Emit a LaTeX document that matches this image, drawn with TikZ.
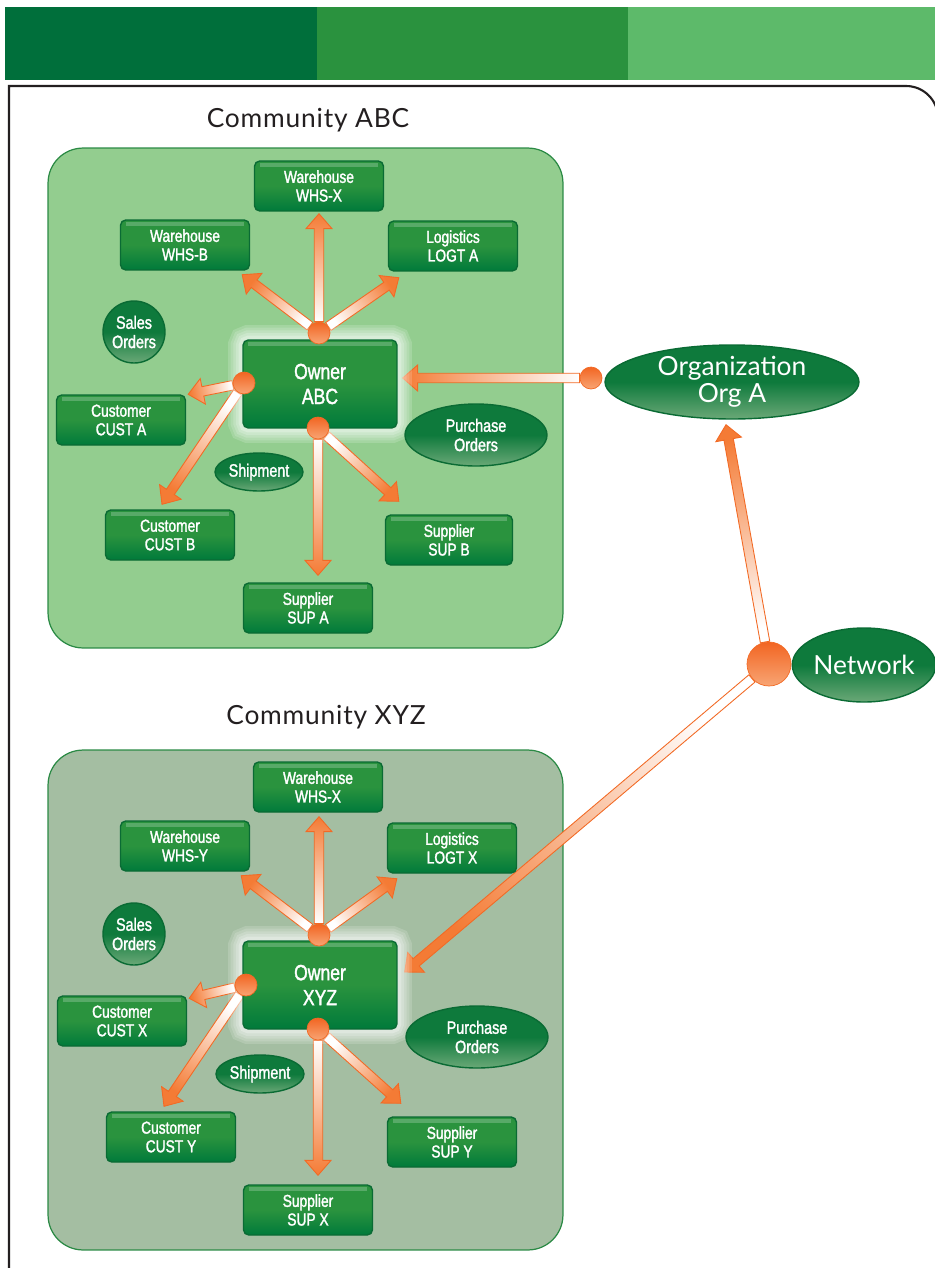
\documentclass[tikz,border=0pt]{standalone}
\usepackage{fontspec}
\setmainfont{Lato}
\newfontfamily\condfont[FakeStretch=0.8, FakeBold=1.6]{Liberation Sans}
\newfontfamily\titlefont[LetterSpace=3.0]{Lato}
\usetikzlibrary{calc}
\usetikzlibrary{shapes.geometric}

\definecolor{barone}{HTML}{006F3B}
\definecolor{bartwo}{HTML}{2A923E}
\definecolor{barthree}{HTML}{5DBA6A}
\definecolor{frameink}{HTML}{231F20}
\definecolor{commabc}{HTML}{93CD8F}
\definecolor{commxyz}{HTML}{A4BEA2}
\definecolor{commedge}{HTML}{2B8A45}
\definecolor{boxtop}{HTML}{2A933E}
\definecolor{boxbot}{HTML}{007A3B}
\definecolor{boxedge}{HTML}{0A6B34}
\definecolor{elltop}{HTML}{0E7A3C}
\definecolor{ellbot}{HTML}{6AA877}
\definecolor{balltop}{HTML}{F26522}
\definecolor{ballbot}{HTML}{F8A574}
\definecolor{arrorange}{HTML}{F47B35}
\definecolor{arredge}{HTML}{F26A25}

\pgfdeclarelayer{background}
\pgfdeclarelayer{arrowlayer}
\pgfsetlayers{background,arrowlayer,main}

% fat shaded arrow from a ball node to a target point
\newcommand{\fatarrow}[2]{%
  \path (#1) -- #2 coordinate[pos=0] (fatail) coordinate[pos=1] (fatip);
  \path ($(fatip)!8.5pt!(fatail)$) coordinate (fabase);
  \pgfmathanglebetweenpoints{\pgfpointanchor{fatail}{center}}{\pgfpointanchor{fatip}{center}}%
  \pgfmathsetmacro{\faangle}{\pgfmathresult-90}%
  \path[fatarrow, shading angle=\faangle]
    ($(fatail)!2.7pt!90:(fatip)$) -- ($(fabase)!2.7pt!90:(fatip)$) -- ($(fabase)!7.4pt!90:(fatip)$)
    -- (fatip) -- ($(fabase)!7.4pt!-90:(fatip)$) -- ($(fabase)!2.7pt!-90:(fatip)$)
    -- ($(fatail)!2.7pt!-90:(fatip)$) -- cycle;
}

\tikzset{
  unitbox/.style={rectangle, rounded corners=3pt, draw=boxedge, line width=0.8pt,
    top color=boxtop, bottom color=boxbot, middle color=boxtop, text=white, align=center,
    inner sep=0pt, minimum width=2.58cm, minimum height=1cm,
    font=\condfont\fontsize{9.8}{10.6}\selectfont,
    path picture={\fill[white, opacity=0.22, sharp corners] ([xshift=3pt, yshift=-1pt]path picture bounding box.north west)
      rectangle ([xshift=-3pt, yshift=-3.6pt]path picture bounding box.north east);}},
  ownerbox/.style={unitbox, minimum width=3.08cm, minimum height=1.76cm,
    font=\condfont\fontsize{12.5}{14.2}\selectfont,
    preaction={draw=white, line width=17pt, opacity=0.16},
    preaction={draw=white, line width=14pt, opacity=0.16},
    preaction={draw=white, line width=11pt, opacity=0.18},
    preaction={draw=white, line width=8pt, opacity=0.2},
    preaction={draw=white, line width=5pt, opacity=0.25}},
  docnode/.style={ellipse, draw=boxedge, line width=0.8pt, inner sep=0pt,
    top color=elltop, bottom color=ellbot, middle color=elltop, text=white, align=center,
    font=\condfont\fontsize{10.2}{11}\selectfont},
  salesnode/.style={docnode, circle, minimum size=1.24cm},
  ballnode/.style={circle, inner sep=0pt, minimum size=0.44cm, draw=arredge, line width=0.4pt,
    top color=balltop, bottom color=ballbot},
  bignode/.style={docnode, font=\fontsize{15}{15.5}\selectfont},
  commbox/.style={rectangle, rounded corners=0.7cm, draw=commedge, line width=0.7pt,
    minimum width=10.3cm, minimum height=10cm},
  commtitle/.style={font=\titlefont\fontsize{15}{17}\selectfont, text=frameink},
  fatarrow/.style={shade, top color=arrorange, bottom color=white, draw=arredge,
    line width=0.5pt, line join=miter},
}

\begin{document}
\begin{tikzpicture}[x=0.02cm, y=-0.02cm]
\useasboundingbox (0,0) rectangle (935,1268);

\begin{pgfonlayer}{background}
% header bar and frame
\fill[barone] (5,7) rectangle (317,80);
\fill[bartwo] (317,7) rectangle (628,80);
\fill[barthree] (628,7) rectangle (936,80);
\draw[frameink, line width=1.2pt] (9,1275) -- (9,86) -- (906,86)
  arc[start angle=90, end angle=0, radius=0.64cm] -- (938,1275);

\node[commtitle] (titleabc) at (308,120) {Community ABC};
\node[commbox, fill=commabc] (commabc) at (305.5,398) {};
\node[commtitle] (titlexyz) at (326,717) {Community XYZ};
\node[commbox, fill=commxyz] (commxyz) at (305.5,1000) {};
\end{pgfonlayer}

% community ABC
\node[unitbox] (whsxa) at (319,186) {Warehouse\\WHS-X};
\node[unitbox] (whsba) at (185,245) {Warehouse\\WHS-B};
\node[unitbox] (logta) at (453,246) {Logistics\\LOGT A};
\node[salesnode] (salesa) at (134,332) {Sales\\Orders};
\node[ownerbox] (ownerabc) at (320,384) {Owner\\ABC};
\node[unitbox] (custa) at (121,420) {Customer\\CUST A};
\node[unitbox] (custb) at (170,535) {Customer\\CUST B};
\node[docnode, minimum width=1.76cm, minimum height=0.76cm] (shipa) at (259,472) {Shipment};
\node[docnode, minimum width=2.84cm, minimum height=1.24cm] (purcha) at (476,435) {Purchase\\Orders};
\node[unitbox, minimum width=2.54cm] (supb) at (449,540) {Supplier\\SUP B};
\node[unitbox] (supa) at (308,608) {Supplier\\SUP A};

\node[ballnode] (topa) at (319,333) {};
\node[ballnode] (lefta) at (244,383) {};
\node[ballnode] (bota) at (318,428) {};

% community XYZ
\node[unitbox] (whsxb) at (318,787) {Warehouse\\WHS-X};
\node[unitbox] (whsy) at (185,846) {Warehouse\\WHS-Y};
\node[unitbox] (logtx) at (452,848) {Logistics\\LOGT X};
\node[salesnode] (salesb) at (134,934) {Sales\\Orders};
\node[ownerbox] (ownerxyz) at (320,985) {Owner\\XYZ};
\node[unitbox] (custx) at (122,1021) {Customer\\CUST X};
\node[unitbox] (custy) at (171,1137) {Customer\\CUST Y};
\node[docnode, minimum width=1.76cm, minimum height=0.76cm] (shipb) at (260,1074) {Shipment};
\node[docnode, minimum width=2.84cm, minimum height=1.24cm] (purchb) at (477,1037) {Purchase\\Orders};
\node[unitbox] (supy) at (452,1142) {Supplier\\SUP Y};
\node[unitbox] (supx) at (308,1210) {Supplier\\SUP X};

\node[ballnode] (topb) at (319,935) {};
\node[ballnode] (leftb) at (246,985) {};
\node[ballnode] (botb) at (318,1029) {};

% organization and network
\node[bignode, minimum width=5.08cm, minimum height=1.48cm] (orga) at (732,382) {Organization\\Org A};
\node[ballnode] (orgball) at (591,378) {};
\node[bignode, minimum width=2.84cm, minimum height=1.48cm] (network) at (864,665) {Network};
\node[ballnode, minimum size=0.88cm] (netball) at (769,664) {};

\begin{pgfonlayer}{arrowlayer}
\fatarrow{topa}{($(whsxa.south)+(0,2)$)}
\fatarrow{topa}{($(whsba.south east)+(-8,4)$)}
\fatarrow{topa}{($(logta.south west)+(11,6)$)}
\fatarrow{lefta}{($(custa.north east)+(2,0)$)}
\fatarrow{lefta}{($(custb.north)+(-8,-5)$)}
\fatarrow{bota}{($(supa.north)+(10,-7)$)}
\fatarrow{bota}{($(supb.north west)+(14,-13)$)}
\fatarrow{orgball}{($(ownerabc.east)+(5,-6)$)}

\fatarrow{netball}{($(orga.south)+(-6,5)$)}
\fatarrow{netball}{($(ownerxyz.east)+(7,-13)$)}

\fatarrow{topb}{($(whsxb.south)+(1,4)$)}
\fatarrow{topb}{($(whsy.south east)+(-9,4)$)}
\fatarrow{topb}{($(logtx.south west)+(10,5)$)}
\fatarrow{leftb}{($(custx.north east)+(2,3)$)}
\fatarrow{leftb}{($(custy.north)+(-7,-5)$)}
\fatarrow{botb}{($(supx.north)+(10,-9)$)}
\fatarrow{botb}{($(supy.north west)+(14,-13)$)}
\end{pgfonlayer}
\end{tikzpicture}
\end{document}
